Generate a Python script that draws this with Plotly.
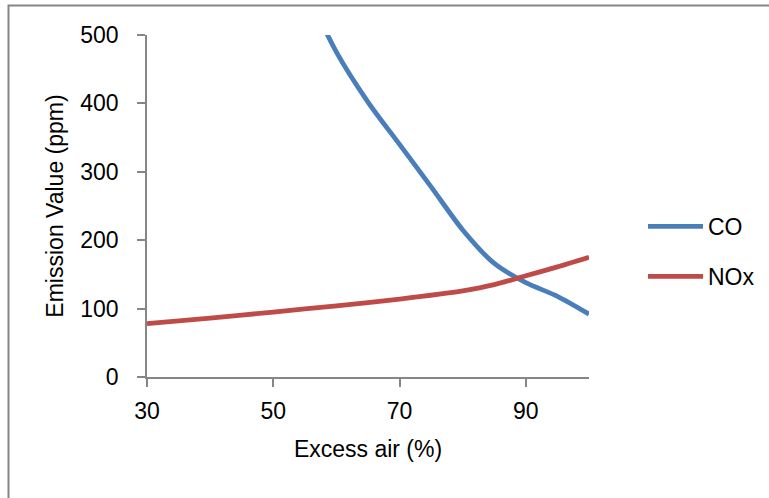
import plotly.graph_objects as go

excess_air_nox = [30, 40, 50, 60, 70, 80, 85, 90, 95, 100]
nox_ppm = [78, 86, 95, 104, 114, 126, 135, 148, 161, 175]

excess_air_co = [55, 60, 65, 70, 75, 80, 85, 90, 95, 100]
co_ppm = [570, 475, 402, 340, 278, 215, 166, 138, 118, 92]

x_ticks = [30, 50, 70, 90]
y_ticks = [0, 100, 200, 300, 400, 500]

FONT = "Liberation Sans, Arial, sans-serif"
FS = 23
W, H = 769, 498
L, R, T, B = 147, 180, 35, 121
PW, PH = W - L - R, H - T - B


def px_x(p):
    return (p - L) / PW


def px_y(p):
    return (H - B - p) / PH


fig = go.Figure()
fig.add_trace(go.Scatter(x=excess_air_co, y=co_ppm, mode="lines", name="CO",
                         line=dict(color="#4A7EBB", width=4.8, shape="spline", smoothing=0.8),
                         legendgroup="a", cliponaxis=True))
fig.add_trace(go.Scatter(x=excess_air_nox, y=nox_ppm, mode="lines", name="NOx",
                         line=dict(color="#BE4B48", width=4.8, shape="spline", smoothing=0.8),
                         legendgroup="b", cliponaxis=True))

axis_common = dict(showgrid=False, zeroline=False, showline=True, linecolor="#868686",
                   linewidth=1.5, ticks="outside", tickcolor="#868686", ticklen=8,
                   tickwidth=1.5, tickfont=dict(family=FONT, size=FS, color="#000"))

fig.update_layout(
    width=W, height=H,
    margin=dict(l=L, r=R, t=T, b=B, autoexpand=False),
    paper_bgcolor="white", plot_bgcolor="white",
    xaxis=dict(range=[30, 100], tickvals=x_ticks, ticklabelstandoff=5, automargin=False,
               title=dict(text="Excess air (%)", font=dict(family=FONT, size=FS, color="#000"), standoff=18),
               **axis_common),
    yaxis=dict(range=[0, 500], tickvals=y_ticks, ticklabelstandoff=14, automargin=False,
               title=dict(text="Emission Value (ppm)", font=dict(family=FONT, size=FS, color="#000"), standoff=10),
               **axis_common),
    legend=dict(x=px_x(643), y=px_y(205), xanchor="left", yanchor="top",
                font=dict(family=FONT, size=FS, color="#000"), itemwidth=55,
                tracegroupgap=17, bgcolor="rgba(0,0,0,0)"),
    showlegend=True,
    shapes=[dict(type="rect", xref="paper", yref="paper",
                 x0=px_x(8.5), x1=px_x(790), y0=px_y(520), y1=px_y(5.5),
                 line=dict(color="#868686", width=2), layer="below")],
)

fig.write_html("out.html")
